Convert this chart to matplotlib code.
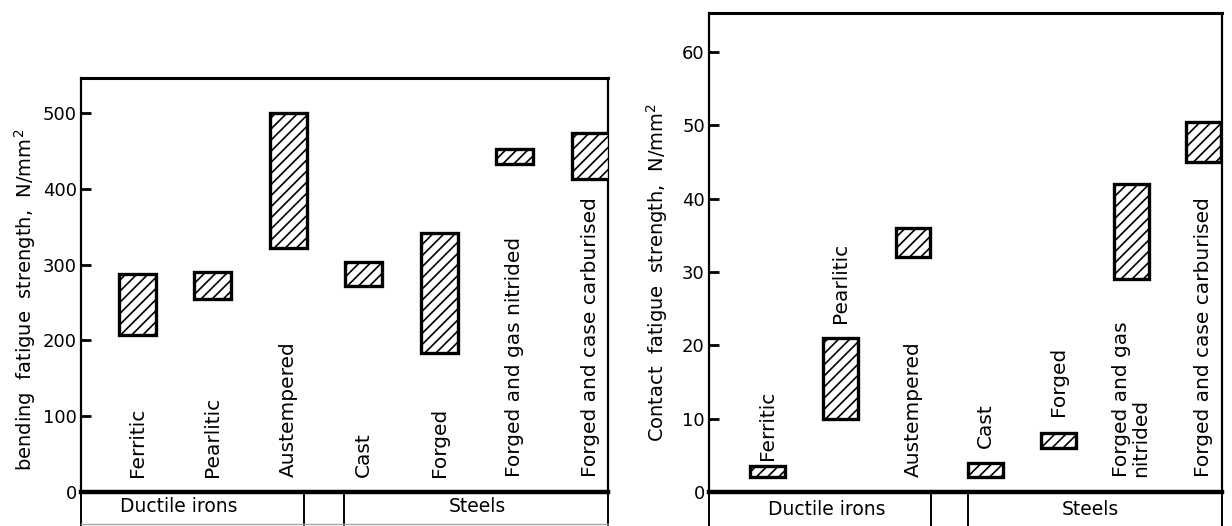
import numpy as np
import matplotlib.pyplot as plt

# bar ranges
categories = ["Ferritic", "Pearlitic", "Austempered", "Cast", "Forged",
              "Forged and gas nitrided", "Forged and case carburised"]
contact_names = ["Ferritic", "Pearlitic", "Austempered", "Cast", "Forged",
                 "Forged and gas\nnitrided", "Forged and case carburised"]

bend_low = [207, 255, 322, 272, 183, 433, 413]
bend_high = [287, 290, 500, 303, 342, 452, 474]
bend_ticks = [0, 100, 200, 300, 400, 500]

contact_low = [2, 10, 32, 2, 6, 29, 45]
contact_high = [3.5, 21, 36, 4, 8, 42, 50.5]
contact_ticks = [0, 10, 20, 30, 40, 50, 60]

groups = ["Ductile irons", "Steels"]

plt.rcParams['font.family'] = ['DejaVu Sans']
plt.rcParams['hatch.linewidth'] = 1.2
plt.rcParams['hatch.color'] = 'black'

W, H = 1232, 526
fig = plt.figure(figsize=(W / 100, H / 100), dpi=100)


def px_axes(x0, x1, y0, y1):
    # pixel box -> figure fraction
    return fig.add_axes([x0 / W, 1 - y1 / H, (x1 - x0) / W, (y1 - y0) / H])


def draw_panel(ax, low, high, ticks, ylim, xlim, width, names, label_y,
               ylabel, ylabel_xy, group_x, split):
    x = np.arange(len(low))
    low = np.asarray(low, float)
    high = np.asarray(high, float)
    ax.bar(x, high - low, bottom=low, width=width, facecolor='white',
           edgecolor='black', hatch='///', linewidth=2.4, zorder=3)
    ax.set_xlim(*xlim)
    ax.set_ylim(*ylim)
    ax.set_xticks([])
    ax.set_yticks(ticks)
    ax.set_yticklabels([str(t) for t in ticks])
    ax.tick_params(axis='y', direction='in', length=7, width=2, pad=3,
                   labelsize=13)
    for s in ['left', 'right']:
        ax.spines[s].set_linewidth(1.6)
    ax.spines['bottom'].set_linewidth(3.2)
    ax.spines['top'].set_linewidth(2.2)

    for xi, name, ly in zip(x, names, label_y):
        ax.text(xi, ly, name, rotation=90, ha='center', va='bottom',
                fontsize=14.5, linespacing=1.0, multialignment='left',
                zorder=4)

    ax.text(ylabel_xy[0], ylabel_xy[1], ylabel, rotation=90, ha='center',
            va='center', fontsize=14, transform=ax.transAxes)

    # category strip underneath the axis
    tr = ax.transAxes
    for xs in [0, split[0], split[1], 1]:
        ax.plot([xs, xs], [0, -0.2], color='black', lw=1.4,
                transform=tr, clip_on=False)
    ax.plot([0, 1], [-0.078, -0.078], color='0.65', lw=1.0,
            transform=tr, clip_on=False)
    for gx, g in zip(group_x, groups):
        ax.text(gx, -0.036, g, ha='center', va='center', fontsize=13.5,
                transform=tr)


# left panel: bending fatigue
ax1 = px_axes(81, 608, 78, 492)
draw_panel(ax1, bend_low, bend_high, bend_ticks, (0, 546), (-0.747, 6.236),
           0.49, categories, [20] * 7,
           "bending  fatigue  strength,  N/mm$^2$", (-0.106, 0.464),
           [0.186, 0.753], (0.423, 0.499))

# right panel: contact fatigue
ax2 = px_axes(709, 1222, 13, 492)
draw_panel(ax2, contact_low, contact_high, contact_ticks, (0, 65.3),
           (-0.805, 6.25), 0.48, contact_names,
           [4.3, 23, 2, 6, 10.3, 2, 2],
           "Contact  fatigue  strength,  N/mm$^2$", (-0.101, 0.459),
           [0.229, 0.744], (0.433, 0.504))

fig.savefig("out.png", dpi=100)
